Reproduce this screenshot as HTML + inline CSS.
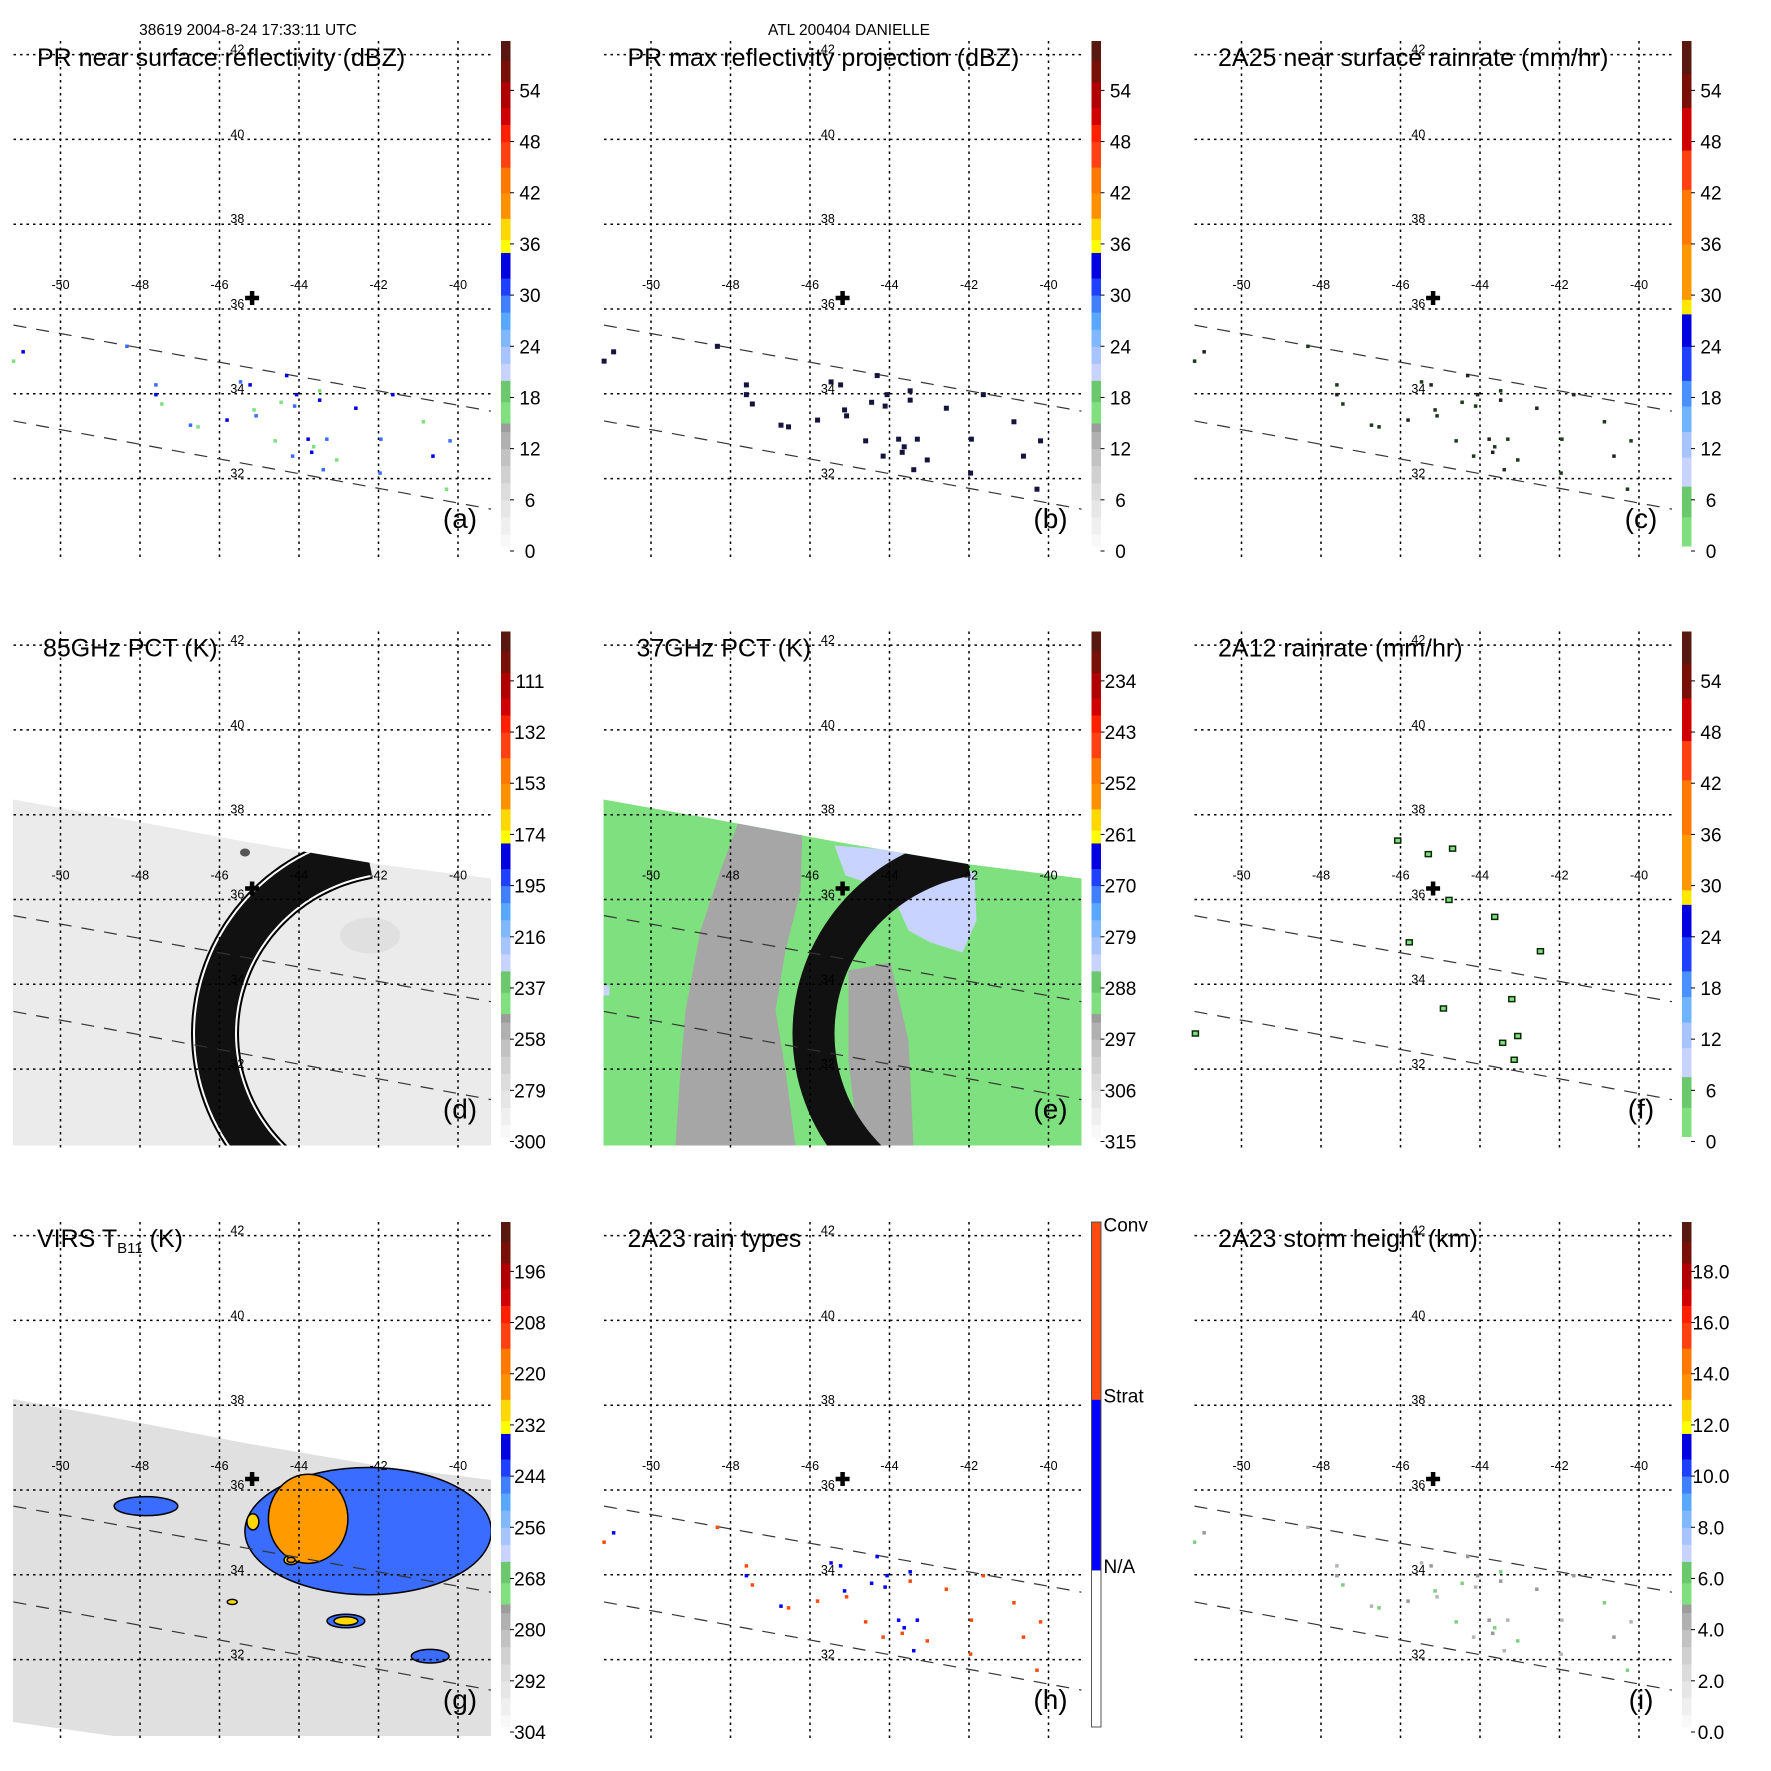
<!DOCTYPE html>
<html><head><meta charset="utf-8"><style>
html,body{margin:0;padding:0;background:#fff}
svg{display:block;font-family:"Liberation Sans",sans-serif}
</style></head><body>
<svg id="fig" width="1771" height="1771" viewBox="0 0 1771 1771" xmlns="http://www.w3.org/2000/svg">
<text x="248" y="35" font-size="15.5" text-anchor="middle">38619 2004-8-24 17:33:11 UTC</text>
<text x="849" y="35" font-size="15.5" text-anchor="middle">ATL 200404 DANIELLE</text>
</svg>
<script>
// ---- data ----
const gridLons=[-50,-48,-46,-44,-42,-40];
const gridLats=[32,34,36,38,40,42];
const tickVals=[0,6,12,18,24,30,36,42,48,54];
const labelsA=['0','6','12','18','24','30','36','42','48','54'];
const labelsD=['300','279','258','237','216','195','174','153','132','111'];
const labelsE=['315','306','297','288','279','270','261','252','243','234'];
const labelsG=['304','292','280','268','256','244','232','220','208','196'];
const labelsI=['0.0','2.0','4.0','6.0','8.0','10.0','12.0','14.0','16.0','18.0'];
const bandsA=[[0,2,'#f8f8f8'],[2,4,'#efefef'],[4,6,'#e6e6e6'],[6,8,'#dcdcdc'],[8,10,'#d0d0d0'],[10,12,'#c2c2c2'],[12,14,'#b0b0b0'],[14,15,'#9c9c9c'],[15,17.5,'#80e080'],[17.5,20,'#6cc86c'],[20,22,'#c8d4ff'],[22,24,'#a8c4ff'],[24,26,'#80b8ff'],[26,28,'#58a8ff'],[28,30,'#4080ff'],[30,32,'#2040ff'],[32,35,'#0000e0'],[35,36.5,'#ffff00'],[36.5,39,'#ffd800'],[39,42,'#ff9000'],[42,45,'#ff7800'],[45,48,'#ff4010'],[48,50,'#ff2000'],[50,52,'#d00000'],[52,55,'#b00000'],[55,57.5,'#781008'],[57.5,60,'#581810']];
const bandsC=[[0,4,'#80e080'],[4,7.6,'#6cc86c'],[7.6,11,'#c8d4ff'],[11,14,'#a8c4ff'],[14,17,'#70b4ff'],[17,20,'#4a90ff'],[20,24,'#2040ff'],[24,27.8,'#0000e0'],[27.8,29.5,'#ffe800'],[29.5,36,'#ff9800'],[36,42.4,'#ff7800'],[42.4,47,'#ff4010'],[47,52,'#d00000'],[52,56,'#781008'],[56,60,'#581810']];
const bandsH=[[0,19,'#ffffff'],[19,39,'#0000ff'],[39,60,'#ff4a10']];
const labelsH=['N/A','Strat','Conv'];
const labelsHVals=[19,39,59];
// PR pixel locations (lon, lat)
const prLon=[-47.6,-47.6,-47.45,-45.47,-45.23,-45.13,-45.08,-45.81,-46.54,-46.73,-44.31,-44.45,-44.11,-44.06,-44.6,-44.16,-43.77,-43.63,-43.3,-43.48,-43.48,-43.39,-43.68,-43.05,-41.94,-41.64,-40.87,-40.2,-40.63,-40.29,-41.96,-50.94,-51.18,-48.33,-42.57];
const prLat=[34.21,33.98,33.76,34.28,34.21,33.62,33.48,33.38,33.22,33.26,34.43,33.8,33.71,33.98,32.89,32.53,32.93,32.75,32.93,33.85,34.07,32.21,32.62,32.44,32.93,33.98,33.34,32.89,32.53,31.75,32.13,34.99,34.77,35.12,33.66];
const rainType=[1,2,1,2,2,2,1,1,1,2,2,2,2,2,1,1,2,2,2,1,2,2,1,1,1,1,1,1,1,1,1,2,1,1,1];
// 2A12 rain pixels
const tmiLon=[-45.3,-44.69,-46.07,-44.78,-45.78,-43.63,-43.43,-43.14,-43.05,-51.16,-44.92,-43.2,-42.48];
const tmiLat=[37.07,37.2,37.39,35.99,34.99,35.59,32.62,32.22,32.78,32.84,33.43,33.65,34.78];
// VIRS cold cloud blobs: center lon/lat, extent (deg), category
const cloudLon=[-42.26,-47.85,-42.82,-40.7,-44.2,-45.68,-45.16,-43.77,-42.82,-44.2];
const cloudLat=[35.03,35.62,32.91,32.08,34.35,33.36,35.25,35.32,32.91,34.35];
const cloudW=[6.2,1.6,0.95,0.95,0.35,0.25,0.3,2.0,0.6,0.2];
const cloudH=[3.0,0.45,0.32,0.32,0.22,0.12,0.38,2.1,0.2,0.12];
const cloudCat=['blue','blue','blue','blue','yellow','yellow','yellow','orange','yellow','orange'];
const stormLon=-45.18, stormLat=36.26;

// ---- geometry ----
const NS='http://www.w3.org/2000/svg';
const svg=document.getElementById('fig');
function X(lon){return 60.5+(lon+50)*39.75;}
function Y(lat){return 309-(lat-36)*42.4;}
function cbY(v){return 551-v*8.53;}
function mk(tag,attrs,parent){const e=document.createElementNS(NS,tag);for(const k in attrs)e.setAttribute(k,attrs[k]);parent.appendChild(e);return e;}
function arcPath(cx,cy,rx,ry){
 let d='';
 for(let t=-100;t>=-240;t-=2.5){
  const a=t*Math.PI/180;
  d+=(d?'L':'M')+(cx+rx*Math.cos(a)).toFixed(1)+','+(cy+ry*Math.sin(a)).toFixed(1);
 }
 return d;
}

const panels=[
 {id:'a',c:0,r:0,title:'PR near surface reflectivity (dBZ)',bands:bandsA,labels:labelsA,kind:'prA'},
 {id:'b',c:1,r:0,title:'PR max reflectivity projection (dBZ)',bands:bandsA,labels:labelsA,kind:'prB'},
 {id:'c',c:2,r:0,title:'2A25 near surface rainrate (mm/hr)',bands:bandsC,labels:labelsA,kind:'prC'},
 {id:'d',c:0,r:1,title:'85GHz PCT (K)',bands:bandsA,labels:labelsD,kind:'d',tx:43},
 {id:'e',c:1,r:1,title:'37GHz PCT (K)',bands:bandsA,labels:labelsE,kind:'e',tx:46},
 {id:'f',c:2,r:1,title:'2A12 rainrate (mm/hr)',bands:bandsC,labels:labelsA,kind:'f'},
 {id:'g',c:0,r:2,title:'VIRS',bands:bandsA,labels:labelsG,kind:'g'},
 {id:'h',c:1,r:2,title:'2A23 rain types',bands:bandsH,labels:null,kind:'h'},
 {id:'i',c:2,r:2,title:'2A23 storm height (km)',bands:bandsA,labels:labelsI,kind:'i'}
];
const swathTop='13,209 120,228 250,252 380,274 491,288 491,555 13,555';
panels.forEach(p=>{
 const g=mk('g',{transform:`translate(${(p.c*590.5).toFixed(1)},${(p.r*590.5).toFixed(1)})`},svg);
 
 
 const cid='clip-'+p.id;
 const defs=mk('defs',{},g);
 const cp=mk('clipPath',{id:cid},defs);
 if(p.kind==='g') mk('polygon',{points:'13,218 120,238 250,263 380,285 491,299 491,555 114,555 13,541'},cp);
 else mk('polygon',{points:swathTop},cp);
 // imagery
 if(p.kind==='d'||p.kind==='e'||p.kind==='g'){
  const im=mk('g',{'clip-path':`url(#${cid})`},g);
  
  
  const base={d:'#ebebeb',e:'#7ee07e',g:'#e0e0e0'}[p.kind];
  mk('rect',{x:0,y:180,width:500,height:380,fill:base},im);
  if(p.kind==='d'){
   mk('ellipse',{cx:370,cy:345,rx:30,ry:18,fill:'#e0e0e0'},im);
   mk('ellipse',{cx:245,cy:262,rx:5,ry:4,fill:'#555'},im);
  }
  if(p.kind==='e'){
   mk('polygon',{points:'150,226 212,238 210,300 195,360 185,420 195,480 205,555 85,555 90,480 95,420 110,340 130,280',fill:'#a6a6a6'},im);
   mk('polygon',{points:'258,380 300,372 318,450 323,555 268,555 258,470',fill:'#a6a6a6'},im);
   mk('polygon',{points:'244,255 330,262 384,282 386,330 372,362 340,352 318,340 300,300 255,285',fill:'#c8d4ff'},im);
   mk('rect',{x:13,y:395,width:6,height:10,fill:'#c8d4ff'},im);
  }
  if(p.kind==='g'){
   const colors={blue:'#3a6cff',yellow:'#ffd800',orange:'#ff9a00'};
   for(let k=0;k<cloudLon.length;k++){
    const w=cloudW[k]*39.75/2, h=cloudH[k]*42.4/2;
    const e=mk('ellipse',{cx:X(cloudLon[k]),cy:Y(cloudLat[k]),rx:w,ry:h,fill:colors[cloudCat[k]],stroke:'#000','stroke-width':1.5},im);
    
    
   }
  }
  if(p.kind==='d'){
   const dd=arcPath(400,443,185,181);
   mk('path',{d:dd,fill:'none',stroke:'#000','stroke-width':48},im);
   mk('path',{d:dd,fill:'none',stroke:'#fff','stroke-width':44},im);
   mk('path',{d:dd,fill:'none',stroke:'#111','stroke-width':40},im);
  }
  if(p.kind==='e') mk('path',{d:arcPath(408,443,185,181),fill:'none',stroke:'#111','stroke-width':42},im);
 }
 // grid
 gridLats.forEach(lat=>{
  const l=mk('line',{x1:13.5,x2:491,y1:Y(lat),y2:Y(lat),stroke:'#000','stroke-width':1.5,'stroke-dasharray':'2.5,4'},g);
  
  
  const t=mk('text',{x:X(-45.55),y:Y(lat)-1,'font-size':12.5,'text-anchor':'middle'},g);
  t.textContent=String(lat);
  
  
 });
 gridLons.forEach(lon=>{
  const l=mk('line',{x1:X(lon),x2:X(lon),y1:41,y2:558,stroke:'#000','stroke-width':1.5,'stroke-dasharray':'2.5,4'},g);
  
  
  const t=mk('text',{x:X(lon),y:289,'font-size':12.5,'text-anchor':'middle'},g);
  t.textContent=String(lon);
  
  
 });
 // swath edges
 [[35.62,33.59],[33.36,31.28]].forEach(s=>{
  const l=mk('line',{x1:13.5,y1:Y(s[0]),x2:491,y2:Y(s[1]),stroke:'#333','stroke-width':1.2,'stroke-dasharray':'13,10'},g);
  
  
 });
 // PR pixels
 if(['prA','prB','prC','h','i'].includes(p.kind)){
  const pal={prA:['#3a6cff','#0000e0','#80e080'],prB:['#14143c','#14143c','#14143c'],prC:['#1c3a1c','#222','#1c3a1c'],i:['#b4b4b4','#999','#7ed07e']};
  for(let k=0;k<prLon.length;k++){
   let col, sz=3.5;
   if(p.kind==='h') col=rainType[k]===1?'#ff4a10':'#0000ff';
   else col=pal[p.kind][k%3];
   if(p.kind==='prB') sz=5;
   const r=mk('rect',{x:X(prLon[k])-sz/2,y:Y(prLat[k])-sz/2,width:sz,height:sz,fill:col},g);
   
   
  }
 }
 if(p.kind==='f'){
  for(let k=0;k<tmiLon.length;k++){
   const r=mk('rect',{x:X(tmiLon[k])-3,y:Y(tmiLat[k])-2.5,width:6,height:5,fill:'#80e080',stroke:'#0a2a0a','stroke-width':1.5},g);
   
   
  }
 }
 // storm center
 const cx=X(stormLon), cy=Y(stormLat);
 const cr=mk('path',{d:`M${cx-7},${cy}H${cx+7}M${cx},${cy-7}V${cy+7}`,stroke:'#000','stroke-width':4.5},g);
 
 
 // title
 const tt=mk('text',{x:p.tx||37,y:66,'font-size':25},g);
 
 
 if(p.kind==='g'){
  tt.appendChild(document.createTextNode('VIRS T'));
  const sub=mk('tspan',{'font-size':15,dy:6},tt); sub.textContent='B11';
  const rest=mk('tspan',{dy:-6},tt); rest.textContent=' (K)';
 } else tt.textContent=p.title;
 const pl=mk('text',{x:460,y:528,'font-size':28,'text-anchor':'middle'},g);
 pl.textContent='('+p.id+')';
 
 
 // colorbar
 const cb=mk('g',{},g);
 
 
 p.bands.forEach(b=>{
  const y1=Math.max(41,cbY(b[1])), y2=Math.min(546,cbY(b[0]));
  mk('rect',{x:501,y:y1,width:9.5,height:Math.max(0,y2-y1+0.5),fill:b[2]},cb);
 });
 if(p.kind==='h'){
  mk('rect',{x:501,y:41,width:9.5,height:505,fill:'none',stroke:'#555','stroke-width':1},cb);
  labelsH.forEach((s,k)=>{
   const t=mk('text',{x:513,y:cbY(labelsHVals[k])+3,'font-size':19},cb);
   t.textContent=s;
   
   
  });
 } else {
  tickVals.forEach((v,k)=>{
   mk('line',{x1:510,x2:514,y1:cbY(v),y2:cbY(v),stroke:'#000','stroke-width':1},cb);
   const t=mk('text',{x:530,y:cbY(v)+7,'font-size':19,'text-anchor':'middle'},cb);
   t.textContent=p.labels[k];
   
   
  });
 }
});
</script>
</body></html>
